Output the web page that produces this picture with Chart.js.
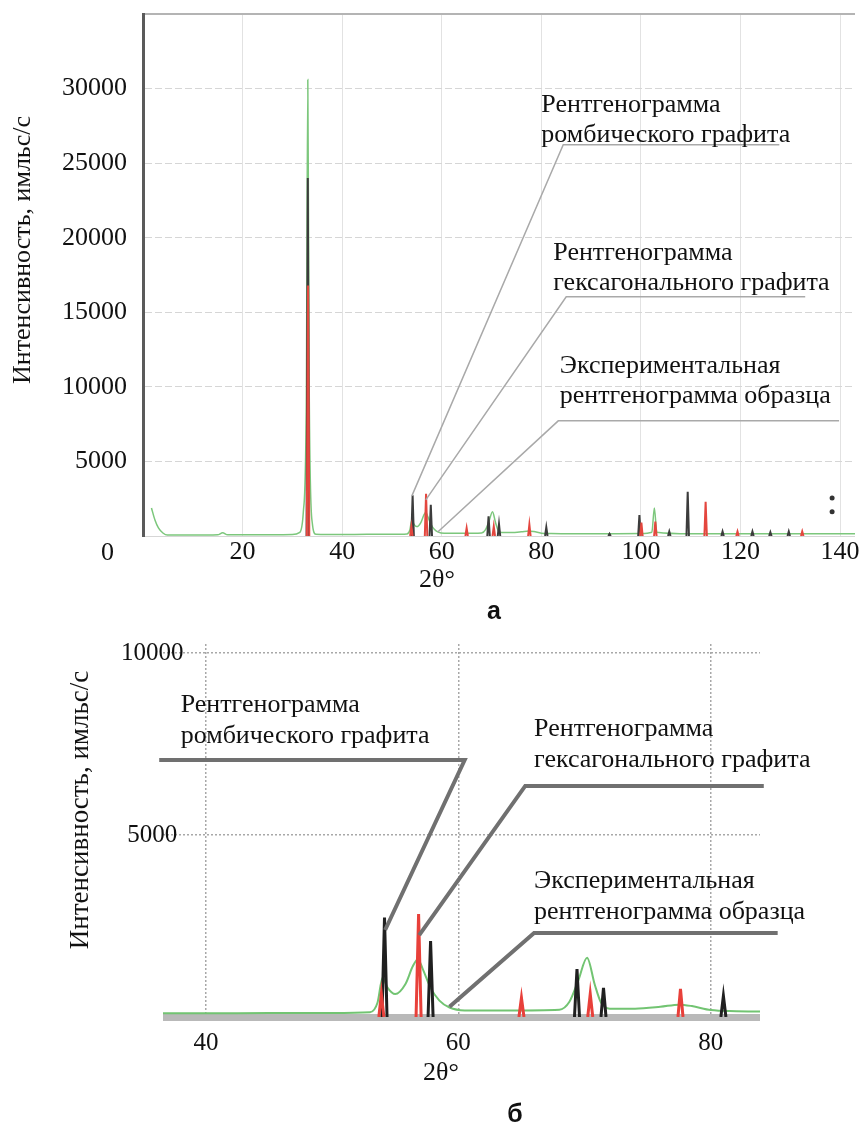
<!DOCTYPE html>
<html>
<head>
<meta charset="utf-8">
<script src="https://cdn.jsdelivr.net/npm/chart.js@4.4.1/dist/chart.umd.min.js"></script>
<style>
  html, body { margin: 0; padding: 0; background: #fff; }
  body { width: 859px; height: 1122px; position: relative; overflow: hidden; }
  .box { position: absolute; left: 0; width: 859px; }
  #boxA { top: 0; height: 600px; }
  #boxB { top: 600px; height: 522px; }
  .cap { position: absolute; width: 40px; text-align: center; line-height: 25px;
         font: bold 25px "Liberation Sans", Arial, sans-serif; color: #111; }
</style>
</head>
<body>
<div class="box" id="boxA"><canvas id="chartA" width="859" height="600"></canvas></div>
<div class="box" id="boxB"><canvas id="chartB" width="859" height="522"></canvas></div>
<div class="cap" style="left:474px; top:596px;">а</div>
<div class="cap" style="left:495px; top:1099px;">б</div>

<script>
const serif = '"Liberation Serif", "Times New Roman", serif';

// experimental pattern (green), 2θ in degrees / counts
const expAngle = [1.7, 2.4, 3.1, 4.0, 4.9, 10, 15, 16, 17, 25, 30, 31.5, 32.2, 32.8, 33.1,
  33.4, 34.0, 34.7, 40, 45, 50, 53, 53.6, 54.0, 54.4, 55.0, 55.8, 56.4, 56.8, 57.2,
  57.8, 58.5, 59.3, 60.5, 64, 68, 68.8, 69.5, 70.2, 70.8, 71.3, 72, 74, 76, 77.5,
  78.5, 80, 82, 84, 90, 100, 102.2, 102.7, 103.2, 110, 120, 130, 143];
const expCount = [1880, 1070, 540, 200, 60, 60, 80, 220, 80, 80, 100, 250, 1600, 9000, 30600,
  9000, 870, 120, 100, 110, 110, 130, 400, 1080, 800, 630, 900, 1400, 1590, 1300,
  800, 450, 260, 180, 180, 200, 420, 1000, 1630, 900, 400, 230, 230, 280, 340,
  300, 190, 160, 150, 150, 160, 250, 1880, 250, 150, 150, 150, 150];

// rhombic graphite reference lines (black)
const rhombAngle = [33.1, 54.15, 57.8, 69.4, 71.5, 81.0, 93.7, 99.7, 105.7, 109.4, 116.4, 122.4, 126.0, 129.7];
const rhombCount = [24000, 2730, 2090, 1320, 800, 580, 150, 1400, 300, 2970, 300, 300, 250, 300];

// hexagonal graphite reference lines (red)
const hexAngle = [33.15, 53.9, 56.85, 65.0, 70.45, 77.6, 100.1, 102.9, 113.0, 119.4, 132.4];
const hexCount = [16800, 630, 2830, 530, 630, 770, 900, 960, 2300, 300, 300];

// two dots near the right edge of panel a
const dotAngle = [138.4, 138.4];
const dotCount = [2550, 1630];

// tick labels
const xTicksA = [20, 40, 60, 80, 100, 120, 140];
const yTicksA = [5000, 10000, 15000, 20000, 25000, 30000];
const xTicksB = [40, 60, 80];
const yTicksB = [5000, 10000];

const noteText = [
  ['Рентгенограмма', 'ромбического графита'],
  ['Рентгенограмма', 'гексагонального графита'],
  ['Экспериментальная', 'рентгенограмма образца']
];
const yTitle = 'Интенсивность, имльс/с';
const xTitle = '2θ°';

// callouts: text anchor and leader polyline, in (2θ, counts)
const notesA = [[80.0, 28450], [82.4, 18520], [83.7, 10940]];
const leadersA = [
  [[127.8, 26240], [84.4, 26240], [54.0, 2690]],
  [[133.0, 16040], [85.0, 16040], [56.8, 2420]],
  [[139.8, 7720], [83.4, 7720], [59.2, 270]]
];
const notesB = [[38.0, 8380], [66.0, 7720], [66.0, 3540]];
const leadersB = [
  [[36.3, 7060], [60.5, 7060], [54.2, 2390]],
  [[84.2, 6350], [65.3, 6350], [56.9, 2250]],
  [[85.3, 2310], [66.0, 2310], [59.3, 280]]
];

function pts(xs, ys) {
  return xs.map((v, i) => ({x: v, y: ys[i]}));
}

// each reference line as a narrow peak, separated by gaps
function sticks(xs, ys, half) {
  const out = [];
  xs.forEach((v, i) => {
    out.push({x: v - half, y: 0}, {x: v, y: ys[i]}, {x: v + half, y: 0}, {x: v + half, y: null});
  });
  return out;
}

function leaderSets(list, color, width) {
  return list.map(l => ({
    data: l.map(p => ({x: p[0], y: p[1]})),
    borderColor: color, borderWidth: width, pointRadius: 0, clip: false
  }));
}

// draws callout texts and axis titles
const textPlugin = {
  id: 'figText',
  afterDraw(chart, args, opts) {
    const {ctx} = chart;
    const x = chart.scales.x, y = chart.scales.y;
    ctx.save();
    ctx.fillStyle = '#111';
    ctx.font = opts.noteFont;
    ctx.textAlign = 'left';
    ctx.textBaseline = 'alphabetic';
    opts.notes.forEach((n, k) => {
      const px = x.getPixelForValue(n[0]);
      const py = y.getPixelForValue(n[1]);
      noteText[k].forEach((t, i) => ctx.fillText(t, px, py + i * opts.lineGap));
    });
    opts.texts.forEach(t => {
      ctx.save();
      ctx.font = t.font;
      ctx.textAlign = 'center';
      ctx.textBaseline = t.baseline || 'alphabetic';
      ctx.translate(t.px, t.py);
      if (t.rotate) ctx.rotate(t.rotate);
      ctx.fillText(t.text, 0, 0);
      ctx.restore();
    });
    ctx.restore();
  }
};

// ---- panel а ----
new Chart(document.getElementById('chartA'), {
  type: 'line',
  data: {
    datasets: [
      ...leaderSets(leadersA, '#a9a9a9', 1.5),
      {data: pts(dotAngle, dotCount), showLine: false, pointRadius: 2.5,
       pointBackgroundColor: '#333', pointBorderWidth: 0},
      {data: sticks(hexAngle, hexCount, 0.25), borderColor: '#e4463e', borderWidth: 2, pointRadius: 0},
      {data: sticks(rhombAngle, rhombCount, 0.25), borderColor: '#3c3c3c', borderWidth: 2, pointRadius: 0},
      {data: pts(expAngle, expCount), borderColor: '#7cc77c', borderWidth: 1.5, pointRadius: 0,
       cubicInterpolationMode: 'monotone'}
    ]
  },
  options: {
    responsive: false,
    animation: false,
    layout: {padding: {top: 14, right: 0, left: 0, bottom: 0}},
    plugins: {
      legend: {display: false},
      tooltip: {enabled: false},
      figText: {
        notes: notesA, noteFont: '26px ' + serif, lineGap: 30,
        texts: [
          {text: yTitle, px: 23, py: 250, rotate: -Math.PI / 2, baseline: 'middle', font: '26px ' + serif},
          {text: xTitle, px: 437, py: 587, font: '26px ' + serif},
          {text: '0', px: 107.5, py: 553, baseline: 'middle', font: '26px ' + serif}
        ]
      }
    },
    scales: {
      x: {
        type: 'linear', min: 0, max: 143,
        afterBuildTicks: s => { s.ticks = xTicksA.map(v => ({value: v})); },
        afterFit: s => { s.height = 64; s.paddingLeft = 0; s.paddingRight = 0; },
        grid: {color: '#e2e2e2', lineWidth: 1, drawTicks: false},
        border: {display: false},
        ticks: {font: {family: serif, size: 26}, color: '#111', padding: 1, maxRotation: 0, autoSkip: false}
      },
      y: {
        min: 0, max: 35000,
        afterBuildTicks: s => { s.ticks = [0, ...yTicksA, 35000].map(v => ({value: v})); },
        afterFit: s => { s.width = 143; s.paddingTop = 0; s.paddingBottom = 0; },
        grid: {
          drawTicks: false,
          color: c => (c.tick && c.tick.value === 35000) ? '#b4b4b4' : '#d6d6d6',
          lineWidth: c => (c.tick && c.tick.value === 35000) ? 2 : 1
        },
        border: {
          display: true, color: '#5a5a5a', width: 3,
          dash: c => (c.tick && c.tick.value % 35000 !== 0) ? [7, 3] : []
        },
        ticks: {
          font: {family: serif, size: 26}, color: '#111', padding: 16, autoSkip: false,
          callback: v => yTicksA.includes(v) ? String(v) : ''
        }
      }
    }
  },
  plugins: [textPlugin]
});

// ---- panel б ----
new Chart(document.getElementById('chartB'), {
  type: 'line',
  data: {
    datasets: [
      ...leaderSets(leadersB, '#707070', 4),
      {data: sticks(hexAngle, hexCount, 0.2), borderColor: '#e8403a', borderWidth: 3, pointRadius: 0},
      {data: sticks(rhombAngle, rhombCount, 0.2), borderColor: '#202020', borderWidth: 3, pointRadius: 0},
      {data: pts(expAngle, expCount), borderColor: '#72c472', borderWidth: 2, pointRadius: 0,
       cubicInterpolationMode: 'monotone'}
    ]
  },
  options: {
    responsive: false,
    animation: false,
    layout: {padding: {top: 44, right: 99, left: 0, bottom: 0}},
    plugins: {
      legend: {display: false},
      tooltip: {enabled: false},
      figText: {
        notes: notesB, noteFont: '26px ' + serif, lineGap: 30.5,
        texts: [
          {text: yTitle, px: 81, py: 210, rotate: -Math.PI / 2, baseline: 'middle', font: '27px ' + serif},
          {text: xTitle, px: 441, py: 480, font: '26px ' + serif}
        ]
      }
    },
    scales: {
      x: {
        type: 'linear', min: 36.6, max: 83.9,
        afterBuildTicks: s => { s.ticks = xTicksB.map(v => ({value: v})); },
        afterFit: s => { s.height = 105; s.paddingLeft = 0; s.paddingRight = 0; },
        grid: {color: '#a8a8a8', lineWidth: 1.5, drawTicks: false},
        border: {display: false, dash: [2, 2]},
        ticks: {font: {family: serif, size: 25}, color: '#111', padding: 11, maxRotation: 0, autoSkip: false}
      },
      y: {
        min: 0, max: 10250,
        afterBuildTicks: s => { s.ticks = [0, ...yTicksB].map(v => ({value: v})); },
        afterFit: s => { s.width = 163; s.paddingTop = 0; s.paddingBottom = 0; },
        grid: {
          drawTicks: false,
          color: c => (c.tick && c.tick.value === 0) ? '#b9b9b9' : '#a8a8a8',
          lineWidth: c => (c.tick && c.tick.value === 0) ? 7 : 1.5
        },
        border: {
          display: false,
          dash: c => (c.tick && c.tick.value === 0) ? [] : [2, 2]
        },
        ticks: {
          // mirrored so the labels are not clipped where they overlap the plot edge
          font: {family: serif, size: 25}, color: '#111', mirror: true, padding: -42,
          crossAlign: 'center', autoSkip: false,
          callback: v => yTicksB.includes(v) ? String(v) : ''
        }
      }
    }
  },
  plugins: [textPlugin]
});
</script>
</body>
</html>
